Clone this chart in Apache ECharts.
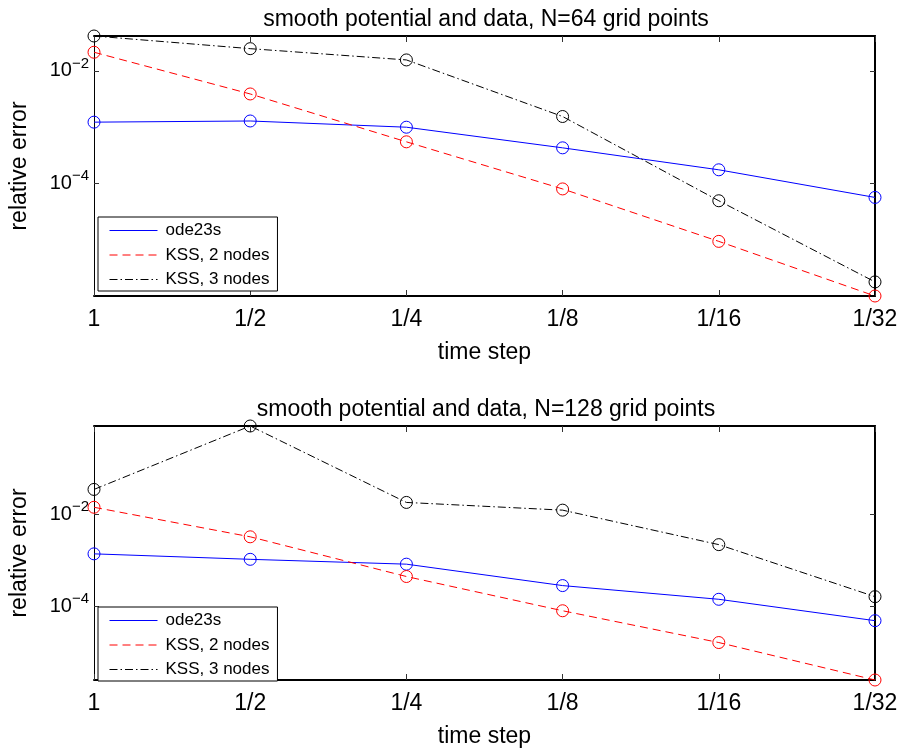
<!DOCTYPE html>
<html><head><meta charset="utf-8">
<script src="https://cdn.jsdelivr.net/npm/echarts@6/dist/echarts.min.js"></script>
<style>html,body{margin:0;padding:0;background:#fff}#c{width:907px;height:749px}</style>
</head><body><div id="c"></div>
<script>
// ---- data ----
const timeSteps = ['1', '1/2', '1/4', '1/8', '1/16', '1/32'];
const seriesNames = ['ode23s', 'KSS, 2 nodes', 'KSS, 3 nodes'];
const panelTitles = ['smooth potential and data, N=64 grid points', 'smooth potential and data, N=128 grid points'];
const yTickValues = [1e-4, 1e-2];

const n64_ode23s = [1.23e-3, 1.29e-3, 1.0e-3, 4.3e-4, 1.75e-4, 5.65e-5];
const n64_kss2   = [0.0215, 3.9e-3, 5.5e-4, 8.0e-5, 9.35e-6, 1.0e-6];
const n64_kss3   = [0.0418, 0.0249, 0.0157, 1.55e-3, 4.93e-5, 1.78e-6];

const n128_ode23s = [1.38e-3, 1.05e-3, 8.24e-4, 2.82e-4, 1.42e-4, 4.87e-5];
const n128_kss2   = [0.0142, 3.24e-3, 4.44e-4, 8.0e-5, 1.63e-5, 2.5e-6];
const n128_kss3   = [0.0347, 0.83, 0.0181, 0.0123, 2.19e-3, 1.62e-4];

// ---- styling ----
const FONT = 'Liberation Sans, Arial, Helvetica, sans-serif';
const colors = ['#0000ff', '#ff0000', '#000000'];
const dashes = ['solid', [8, 5], [8, 3, 1.5, 3]];
const panels = [
  {data: [n64_ode23s, n64_kss2, n64_kss3], top: 36, legendTop: 217, titleTop: 3},
  {data: [n128_ode23s, n128_kss2, n128_kss3], top: 426, legendTop: 607, titleTop: 393}
];
const PLOT_H = 260, LEFT = 90, RIGHT = 32;

const grid = [], xAxis = [], yAxis = [], series = [], title = [], legend = [];
panels.forEach((p, g) => {
  const all = [].concat(...p.data);
  const ymin = Math.min(...all), ymax = Math.max(...all);
  grid.push({left: LEFT, right: RIGHT, top: p.top, height: PLOT_H, containLabel: false});
  title.push({
    text: panelTitles[g], left: 481, textAlign: 'center', top: p.titleTop,
    textStyle: {fontFamily: FONT, fontSize: 23, fontWeight: 'normal', color: '#000'}
  });
  // bottom x axis
  xAxis.push({
    type: 'category', gridIndex: g, data: timeSteps, boundaryGap: false, position: 'bottom',
    axisLine: {lineStyle: {color: '#000', width: 2}},
    axisTick: {inside: true, length: 6, interval: 0, lineStyle: {color: '#333'}},
    axisLabel: {interval: 0, margin: 12, fontFamily: FONT, fontSize: 23, color: '#000'},
    name: 'time step', nameLocation: 'middle', nameGap: 45,
    nameTextStyle: {fontFamily: FONT, fontSize: 23, color: '#000'}
  });
  // top mirror x axis
  xAxis.push({
    type: 'category', gridIndex: g, data: timeSteps, boundaryGap: false, position: 'top',
    axisLine: {lineStyle: {color: '#000', width: 2}},
    axisTick: {inside: true, length: 6, interval: 0, lineStyle: {color: '#333'}},
    axisLabel: {show: false}
  });
  // left y axis
  yAxis.push({
    type: 'log', gridIndex: g, min: ymin, max: ymax, position: 'left',
    splitLine: {show: false},
    axisLine: {show: true, lineStyle: {color: '#000', width: 1}},
    axisTick: {show: true, inside: true, length: 5, customValues: yTickValues, lineStyle: {color: '#333'}},
    axisLabel: {
      customValues: yTickValues, margin: 5, color: '#000',
      formatter: v => '{b|10}{s|\u2212' + Math.abs(Math.round(Math.log10(v))) + '}',
      rich: {
        b: {fontFamily: FONT, fontSize: 20, color: '#000', lineHeight: 30},
        s: {fontFamily: FONT, fontSize: 15, color: '#000', verticalAlign: 'top', lineHeight: 14}
      }
    },
    name: 'relative error', nameLocation: 'middle', nameGap: 63, nameRotate: 90,
    nameTextStyle: {fontFamily: FONT, fontSize: 23, color: '#000'}
  });
  // right mirror y axis
  yAxis.push({
    type: 'log', gridIndex: g, min: ymin, max: ymax, position: 'right',
    splitLine: {show: false},
    axisLine: {show: true, lineStyle: {color: '#000', width: 2}},
    axisTick: {show: true, inside: true, length: 5, customValues: yTickValues, lineStyle: {color: '#333'}},
    axisLabel: {show: false}
  });
  p.data.forEach((vals, k) => {
    series.push({
      type: 'line', name: seriesNames[k], xAxisIndex: 2 * g, yAxisIndex: 2 * g,
      data: vals, clip: false, symbol: 'circle', symbolSize: 12, z: 3 + k,
      lineStyle: {color: colors[k], width: 1, type: dashes[k]},
      itemStyle: {color: 'rgba(0,0,0,0)', borderColor: colors[k], borderWidth: 1},
      emphasis: {disabled: true}
    });
  });
  legend.push({
    data: seriesNames, orient: 'vertical', left: 98, top: p.legendTop,
    backgroundColor: '#fff', borderColor: '#000', borderWidth: 1,
    padding: [5, 8, 3, 11], itemWidth: 48, itemHeight: 13, itemGap: 7.5,
    itemStyle: {opacity: 0}, lineStyle: {width: 1}, selectedMode: false,
    textStyle: {fontFamily: FONT, fontSize: 17, lineHeight: 15, color: '#000', padding: [0, 0, 0, 3]}
  });
});

const chart = echarts.init(document.getElementById('c'), null, {renderer: 'canvas'});
chart.setOption({
  animation: false, backgroundColor: '#fff',
  title, grid, xAxis, yAxis, series, legend
});
</script></body></html>
